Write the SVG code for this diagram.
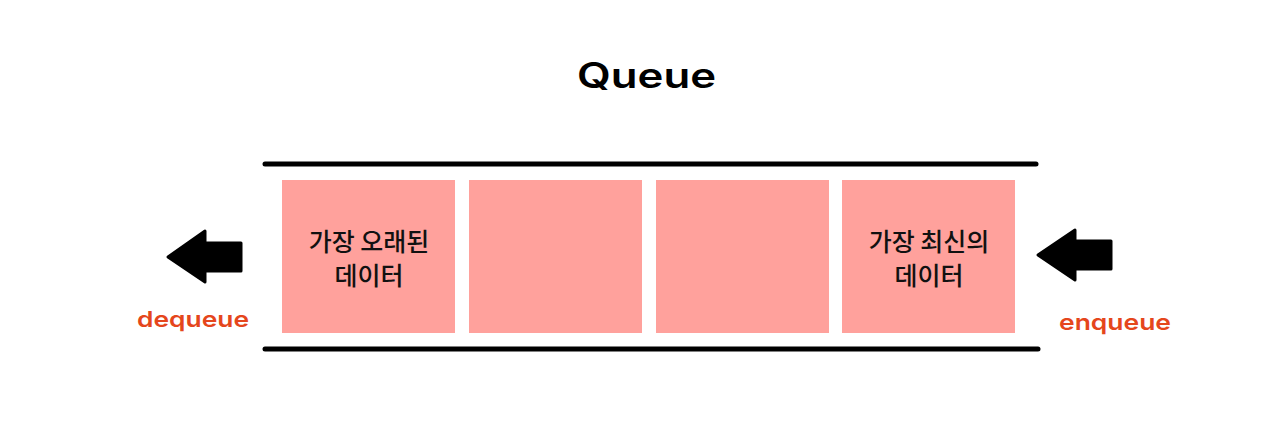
<svg xmlns="http://www.w3.org/2000/svg" width="1280" height="436" viewBox="0 0 1280 436">
<style>
.rail{stroke:#000;stroke-width:5;stroke-linecap:round;fill:none}
.cell{fill:#FFA19C}
.kr{font-family:"Noto Sans CJK KR","Noto Sans",sans-serif;font-size:25px;font-weight:500;fill:#111;text-anchor:middle}
.op{font-family:Inter,"Liberation Sans",sans-serif;font-size:22px;font-weight:600;fill:#E5461C;text-anchor:middle}
.arrow{fill:#000;stroke:#000;stroke-width:3;stroke-linejoin:round}
</style>
<rect width="1280" height="436" fill="#fff"/>
<text x="646.5" y="88" font-family="Inter, Liberation Sans, Arial, sans-serif" font-size="35" font-weight="600" text-anchor="middle" fill="#000" textLength="139" lengthAdjust="spacingAndGlyphs">Queue</text>
<g id="rails">
<line class="rail" x1="265" y1="164" x2="1036" y2="164"/>
<line class="rail" x1="265" y1="349" x2="1038" y2="349"/>
</g>
<g id="cell1"><rect class="cell" x="282" y="180" width="173" height="153"/>
<text class="kr" x="369" y="251">가장 오래된</text><text class="kr" x="369" y="285">데이터</text></g>
<g id="cell2"><rect class="cell" x="469" y="180" width="173" height="153"/></g>
<g id="cell3"><rect class="cell" x="656" y="180" width="173" height="153"/></g>
<g id="cell4"><rect class="cell" x="842" y="180" width="173" height="153"/>
<text class="kr" x="929" y="251">가장 최신의</text><text class="kr" x="929" y="285">데이터</text></g>
<g id="connectors">
<g id="dequeue">
<polygon class="arrow" points="168,257 205,231 205,243 241,243 241,271 205,271 205,282"/>
<text class="op" x="193" y="327" textLength="112" lengthAdjust="spacingAndGlyphs">dequeue</text>
</g>
<g id="enqueue">
<polygon class="arrow" points="1038,255 1075,230 1075,241 1111,241 1111,269 1075,269 1075,280"/>
<text class="op" x="1115" y="330" textLength="112" lengthAdjust="spacingAndGlyphs">enqueue</text>
</g>
</g>
</svg>
